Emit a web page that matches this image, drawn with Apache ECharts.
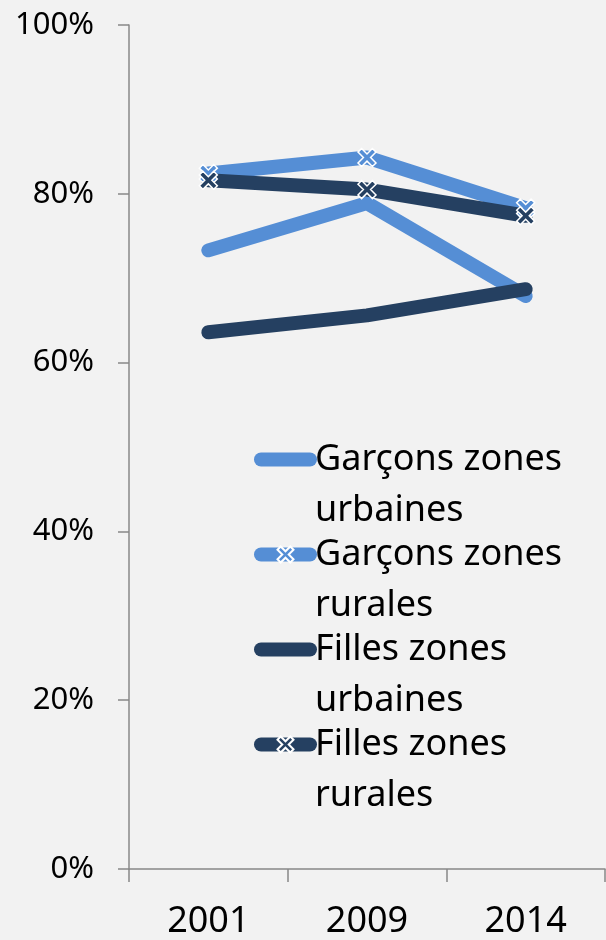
<!DOCTYPE html>
<html>
<head>
<meta charset="utf-8">
<style>
  html, body { margin: 0; padding: 0; background: #f2f2f2; }
  #chart { width: 606px; height: 940px; }
</style>
<script src="https://cdn.jsdelivr.net/npm/echarts@6/dist/echarts.min.js"></script>
</head>
<body>
<div id="chart"></div>
<script>
// values
var years = ['2001', '2009', '2014'];
var garconsUrbaines = [0.733, 0.789, 0.679];
var garconsRurales = [0.824, 0.843, 0.783];
var fillesUrbaines = [0.636, 0.656, 0.687];
var fillesRurales = [0.816, 0.805, 0.774];

var lightBlue = '#558ed5';
var darkBlue = '#254061';
var font = 'Noto Sans';
// thick cross marker
var crossPath = 'path://M2,0 L5,3 L8,0 L10,2 L7,5 L10,8 L8,10 L5,7 L2,10 L0,8 L3,5 L0,2 Z';

function lineSeries(name, data, color, marked) {
    return {
        name: name,
        type: 'line',
        data: data,
        symbol: marked ? crossPath : 'none',
        symbolSize: 18,
        showSymbol: marked,
        lineStyle: { width: 14, color: color, cap: 'round', join: 'round' },
        itemStyle: { color: color, borderColor: '#ffffff', borderWidth: 1.5 },
        emphasis: { disabled: true },
        z: 2
    };
}

var chart = echarts.init(document.getElementById('chart'));
chart.setOption({
    backgroundColor: '#f2f2f2',
    animation: false,
    grid: { left: 129, right: 1, top: 25, bottom: 70 },
    xAxis: {
        type: 'category',
        data: years,
        boundaryGap: true,
        axisLine: { lineStyle: { color: '#888888', width: 1.5 } },
        axisTick: { show: true, length: 13, lineStyle: { color: '#888888', width: 1.5 } },
        axisLabel: { color: '#000000', fontFamily: font, fontSize: 36, margin: 35 }
    },
    yAxis: {
        type: 'value',
        min: 0,
        max: 1,
        interval: 0.2,
        splitLine: { show: false },
        axisLine: { show: true, lineStyle: { color: '#888888', width: 1.5 } },
        axisTick: { show: true, length: 11, lineStyle: { color: '#888888', width: 1.5 } },
        axisLabel: {
            color: '#000000', fontFamily: font, fontSize: 31, margin: 35,
            formatter: function (v) { return Math.round(v * 100) + '%'; }
        }
    },
    legend: {
        orient: 'vertical',
        left: 254,
        top: 383,
        padding: 0,
        itemWidth: 49,
        itemHeight: 20,
        itemGap: -58,
        lineStyle: { width: 14, cap: 'round' },
        // first line sits on the icon, the second below it
        formatter: function (name) { return '\n' + name.replace(' zones ', ' zones\n'); },
        textStyle: { color: '#000000', fontFamily: font, fontSize: 36, lineHeight: 51 },
        data: [
            { name: 'Garçons zones urbaines', itemStyle: { opacity: 0 } },
            { name: 'Garçons zones rurales' },
            { name: 'Filles zones urbaines', itemStyle: { opacity: 0 } },
            { name: 'Filles zones rurales' }
        ]
    },
    series: [
        lineSeries('Garçons zones urbaines', garconsUrbaines, lightBlue, false),
        lineSeries('Garçons zones rurales', garconsRurales, lightBlue, true),
        lineSeries('Filles zones urbaines', fillesUrbaines, darkBlue, false),
        lineSeries('Filles zones rurales', fillesRurales, darkBlue, true)
    ]
});
</script>
</body>
</html>
